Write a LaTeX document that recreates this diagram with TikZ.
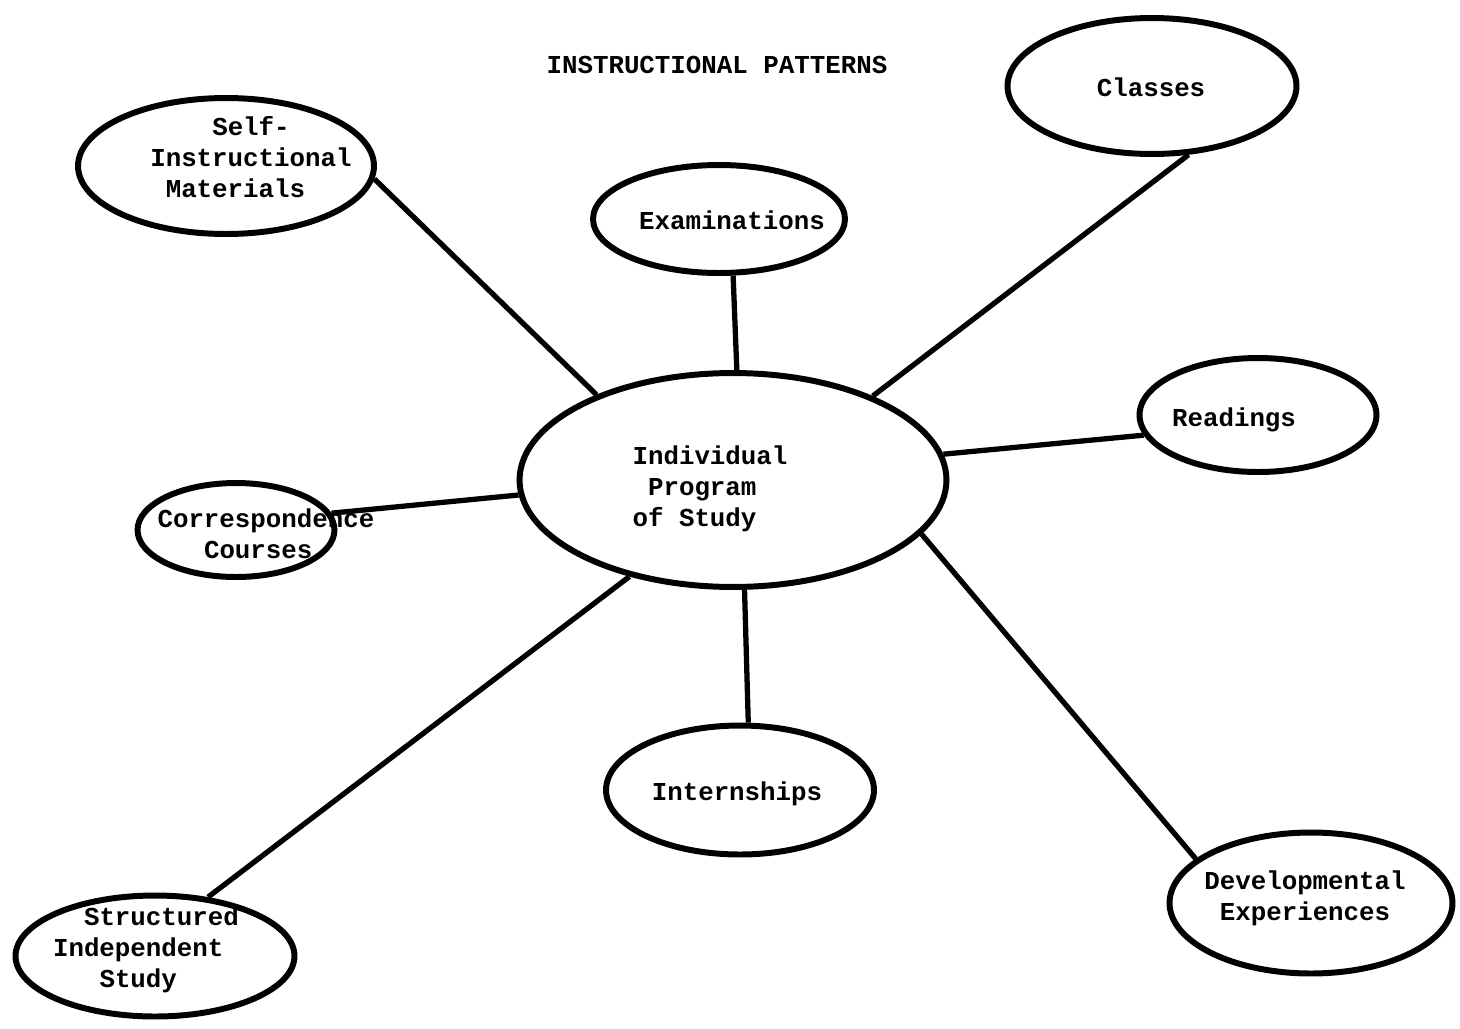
\documentclass[tikz,border=0pt]{standalone}
\usepackage{fontspec}
\setmonofont{Liberation Mono}
\usetikzlibrary{shapes.geometric}
\newcommand{\ind}[1]{\hspace*{#1\fontcharwd\font`x}}
\tikzset{
  bubble/.style={draw, ellipse, line width=3.4pt, inner sep=0pt},
  label text/.style={font=\ttfamily\bfseries\fontsize{14.7}{17.5}\selectfont, align=left, inner sep=0pt},
  spoke/.style={line width=3pt}
}
\begin{document}
\begin{tikzpicture}[x=0.02cm, y=-0.02cm]
\useasboundingbox (0,0) rectangle (1460,1028);

% title
\node[label text] (title) at (717,65) {INSTRUCTIONAL PATTERNS};

% central bubble
\node[bubble, minimum width=8.54cm, minimum height=4.28cm] (hub) at (733,480) {};
\node[label text] (hubtext) at (710,489) {Individual\\\ind{1}Program\\of Study};

% surrounding bubbles
\node[bubble, minimum width=5.92cm, minimum height=2.72cm] (self) at (226,166) {};
\node[label text] (selftext) at (251,157) {\ind{4}Self-\\Instructional\\\ind{1}Materials};

\node[bubble, minimum width=5.04cm, minimum height=2.16cm] (exam) at (719,219) {};
\node[label text] (examtext) at (732,220) {Examinations};

\node[bubble, minimum width=5.78cm, minimum height=2.72cm] (classes) at (1152,86) {};
\node[label text] (classestext) at (1151,87) {Classes};

\node[bubble, minimum width=4.74cm, minimum height=2.28cm] (read) at (1258,415) {};
\node[label text] (readtext) at (1234,420) {Readings};

\node[bubble, minimum width=3.94cm, minimum height=1.88cm] (corr) at (236,530) {};
\node[label text] (corrtext) at (266,534) {Correspondence\\\ind{3}Courses};

\node[bubble, minimum width=5.36cm, minimum height=2.58cm] (intern) at (740,790) {};
\node[label text] (interntext) at (737,794) {Internships};

\node[bubble, minimum width=5.66cm, minimum height=2.82cm] (dev) at (1311,903) {};
\node[label text] (devtext) at (1305,898) {Developmental\\\ind{1}Experiences};

\node[bubble, minimum width=5.58cm, minimum height=2.42cm] (struct) at (155,956) {};
\node[label text] (structtext) at (146,950) {\ind{2}Structured\\Independent\\\ind{3}Study};

% spokes from the hub to each pattern
\draw[spoke] (self.-5.4) -- (hub.148);
\draw[spoke] (exam.-76) -- (hub.88.4);
\draw[spoke] (classes.-62) -- (hub.31.8);
\draw[spoke] (read.-170.4) -- (hub.7.4);
\draw[spoke] (corr.10) -- (hub.184);
\draw[spoke] (intern.83.5) -- (hub.-84);
\draw[spoke] (dev.159.6) -- (hub.-16);
\draw[spoke] (struct.48.7) -- (hub.-137);
\end{tikzpicture}
\end{document}
